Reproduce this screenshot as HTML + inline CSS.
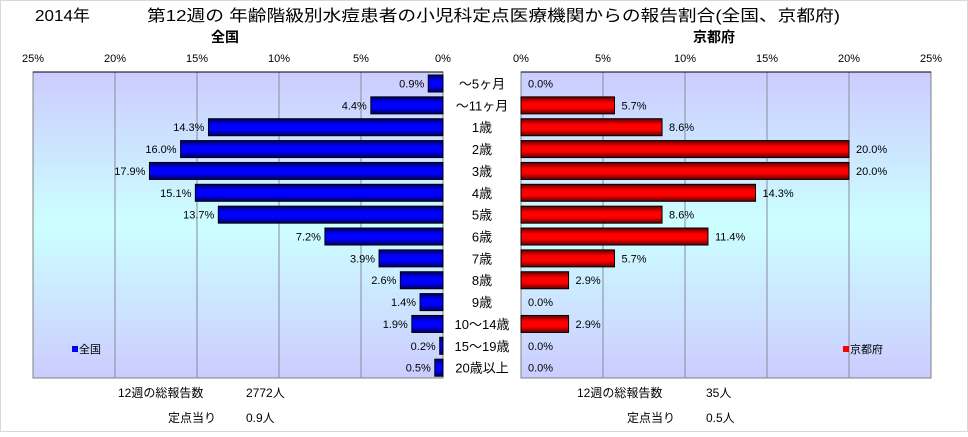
<!DOCTYPE html>
<html><head><meta charset="utf-8"><style>
body{margin:0;background:#fff;}
svg text{font-family:"Liberation Sans","Noto Sans CJK JP",sans-serif;}
</style></head><body>
<svg width="968" height="432" xmlns="http://www.w3.org/2000/svg">
<defs>
<linearGradient id="bg" x1="0" y1="0" x2="0" y2="1">
<stop offset="0" stop-color="#ccccff"/><stop offset="0.5" stop-color="#ccffff"/><stop offset="1" stop-color="#ccccff"/>
</linearGradient>
<linearGradient id="bl" x1="0" y1="0" x2="0" y2="1">
<stop offset="0" stop-color="#000060"/><stop offset="0.35" stop-color="#0000ff"/><stop offset="0.65" stop-color="#0000ff"/><stop offset="1" stop-color="#000060"/>
</linearGradient>
<linearGradient id="rd" x1="0" y1="0" x2="0" y2="1">
<stop offset="0" stop-color="#600000"/><stop offset="0.35" stop-color="#ff0000"/><stop offset="0.65" stop-color="#ff0000"/><stop offset="1" stop-color="#600000"/>
</linearGradient>
</defs>
<rect x="0.5" y="0.5" width="967" height="431" fill="#fff" stroke="#d8d8d8"/>
<text x="35" y="21" font-size="16" textLength="55" lengthAdjust="spacingAndGlyphs">2014年</text>
<text x="147" y="21" font-size="16" textLength="693" lengthAdjust="spacingAndGlyphs">第12週の  年齢階級別水痘患者の小児科定点医療機関からの報告割合(全国、京都府)</text>
<text x="225" y="42" font-size="14" font-weight="bold" text-anchor="middle">全国</text>
<text x="714" y="42" font-size="14" font-weight="bold" text-anchor="middle">京都府</text>
<g font-size="11" text-anchor="middle">
<text x="33" y="62">25%</text><text x="115" y="62">20%</text><text x="197" y="62">15%</text><text x="279" y="62">10%</text><text x="361" y="62">5%</text><text x="443" y="62">0%</text>
<text x="521" y="62">0%</text><text x="603" y="62">5%</text><text x="685" y="62">10%</text><text x="767" y="62">15%</text><text x="849" y="62">20%</text><text x="931" y="62">25%</text>
</g>
<rect x="33" y="72" width="410" height="306" fill="url(#bg)" stroke="#808080"/>
<rect x="521" y="72" width="410" height="306" fill="url(#bg)" stroke="#808080"/>
<g stroke="#8a8a9a">
<line x1="115" y1="72" x2="115" y2="378"/><line x1="197" y1="72" x2="197" y2="378"/><line x1="279" y1="72" x2="279" y2="378"/><line x1="361" y1="72" x2="361" y2="378"/>
<line x1="603" y1="72" x2="603" y2="378"/><line x1="685" y1="72" x2="685" y2="378"/><line x1="767" y1="72" x2="767" y2="378"/><line x1="849" y1="72" x2="849" y2="378"/>
</g>
<line x1="33" y1="72" x2="443" y2="72" stroke="#000"/><line x1="521" y1="72" x2="931" y2="72" stroke="#000"/>
<g id="bars" font-size="11"></g>
<rect x="72" y="346" width="6" height="6" fill="#0000ff"/><text x="79" y="353" font-size="11">全国</text>
<rect x="843" y="346" width="6" height="6" fill="#ff0000"/><text x="850" y="353" font-size="11">京都府</text>
<g font-size="12">
<text x="118" y="397">12週の総報告数</text><text x="246" y="397">2772人</text>
<text x="168" y="422">定点当り</text><text x="246" y="422">0.9人</text>
<text x="577" y="397">12週の総報告数</text><text x="706" y="397">35人</text>
<text x="627" y="422">定点当り</text><text x="706" y="422">0.5人</text>
</g>
</svg>
<script>
var ages=["～5ヶ月","～11ヶ月","1歳","2歳","3歳","4歳","5歳","6歳","7歳","8歳","9歳","10～14歳","15～19歳","20歳以上"];
var L=[0.9,4.4,14.3,16.0,17.9,15.1,13.7,7.2,3.9,2.6,1.4,1.9,0.2,0.5];
var R=[0.0,5.7,8.6,20.0,20.0,14.3,8.6,11.4,5.7,2.9,0.0,2.9,0.0,0.0];
var g=document.getElementById("bars"),s="";
for(var i=0;i<14;i++){var c=83.5+i*21.86;
var w=L[i]*16.4;s+='<rect x="'+(443-w)+'" y="'+(c-8.5)+'" width="'+w+'" height="17" fill="url(#bl)" stroke="#000"/>';
s+='<text x="'+(443-w-4)+'" y="'+(c+4)+'" text-anchor="end">'+L[i].toFixed(1)+'%</text>';
var v=R[i]*16.4;if(v>0)s+='<rect x="521" y="'+(c-8.5)+'" width="'+v+'" height="17" fill="url(#rd)" stroke="#000"/>';
s+='<text x="'+(521+v+7)+'" y="'+(c+4)+'">'+R[i].toFixed(1)+'%</text>';
s+='<text x="482" y="'+(c+5)+'" font-size="13" text-anchor="middle">'+ages[i]+'</text>';}
g.innerHTML=s;
</script>
</body></html>
